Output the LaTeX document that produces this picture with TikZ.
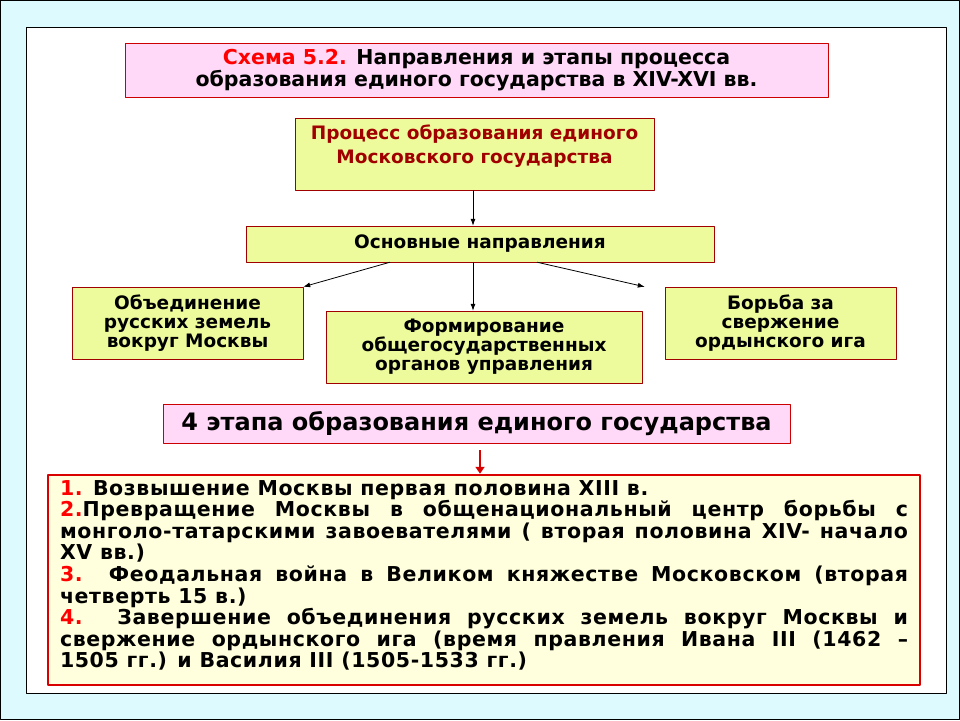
\documentclass[tikz,border=0pt]{standalone}
\usepackage{fontspec}
\setmainfont{DejaVu Sans}
\usetikzlibrary{arrows.meta,positioning}
\definecolor{bgcyan}{HTML}{DDFBFF}
\definecolor{pinkfill}{HTML}{FFD9F7}
\definecolor{greenfill}{HTML}{EEFB9C}
\definecolor{creamfill}{HTML}{FFFFDD}
\definecolor{darkred}{HTML}{A00000}
\tikzset{
  plate/.style={draw=darkred, fill=greenfill, font=\bfseries\fontsize{18.5}{21}\selectfont, align=center, inner sep=0pt},
  pinkbox/.style={draw=red!80!black, fill=pinkfill, font=\bfseries, align=center, inner sep=0pt},
  link/.style={-{Latex[length=7pt,width=5pt]}, line width=0.8pt}
}
\begin{document}
\begin{tikzpicture}[x=1pt,y=-1pt, line join=round]
  % background and frame
  \fill[bgcyan] (0,0) rectangle (960,720);
  \draw[black] (0.5,0.5) rectangle (959.5,719.5);
  \draw[fill=white] (26,27) rectangle (946,693);

  % title
  \node[pinkbox, minimum width=703, minimum height=54, font=\bfseries\fontsize{20.5}{22}\selectfont] (title) at (476.5,70)
    {\textcolor{red}{Схема 5.2.} Направления и этапы процесса\\образования единого государства в XIV-XVI вв.};

  % process
  \node[plate, minimum width=359, minimum height=72, text=darkred, font=\bfseries\fontsize{18.5}{24}\selectfont] (proc) at (474.5,154)
    {Процесс образования единого\\Московского государства\\[-4pt]};
  \node[plate, minimum width=468, minimum height=36] (main) at (480,244) {Основные направления};

  % directions
  \node[plate, minimum width=231, minimum height=72, font=\bfseries\fontsize{18.5}{19}\selectfont] (unite) at (187.5,323)
    {Объединение\\русских земель\\вокруг Москвы};
  \node[plate, minimum width=316, minimum height=72, font=\bfseries\fontsize{18.5}{19}\selectfont] (organs) at (484,347)
    {Формирование\\общегосударственных\\органов управления};
  \node[plate, minimum width=231, minimum height=72, font=\bfseries\fontsize{18.5}{19}\selectfont] (fight) at (780.5,323)
    {Борьба за\\свержение\\ордынского ига};

  \draw[link] (proc.south -| 473,0) -- (main.north -| 473,0);
  \draw[link] ([xshift=-90pt]main.south) -- (unite.north east);
  \draw[link] ([xshift=-7pt]main.south) -- ([xshift=-11pt]organs.north);
  \draw[link] ([xshift=57pt]main.south) -- ([xshift=-20pt]fight.north west);

  % stages
  \node[pinkbox, minimum width=627, minimum height=39, font=\bfseries\fontsize{24}{26}\selectfont] (stages) at (476.5,423.5)
    {4 этапа образования единого государства};
  \node[draw=red!85!black, line width=2.5pt, fill=creamfill, minimum width=872, minimum height=210, inner sep=0pt] (list) at (484,580) {};
  \node[text width=848, align=justify, font=\bfseries\fontsize{20.5}{21.6}\selectfont\addfontfeature{LetterSpace=3}, inner sep=0pt, anchor=north] (listtext) at (484,480)
    {\textcolor{red}{1.} Возвышение Москвы первая половина XIII в.\\
     \textcolor{red}{2.}Превращение Москвы в общенациональный центр борьбы с\linebreak монголо-татарскими завоевателями ( вторая половина XIV- начало\linebreak XV вв.)\\
     \textcolor{red}{3.} Феодальная война в Великом княжестве Московском (вторая\linebreak четверть 15 в.)\\
     \textcolor{red}{4.} Завершение объединения русских земель вокруг Москвы и\linebreak свержение ордынского ига (время правления Ивана III (1462 –\linebreak 1505 гг.) и Василия III (1505-1533 гг.)};
  \draw[-{Triangle[length=7pt,width=9pt]}, red!85!black, line width=2.5pt] (480,450) -- (list.north -| 480,0);
\end{tikzpicture}
\end{document}
